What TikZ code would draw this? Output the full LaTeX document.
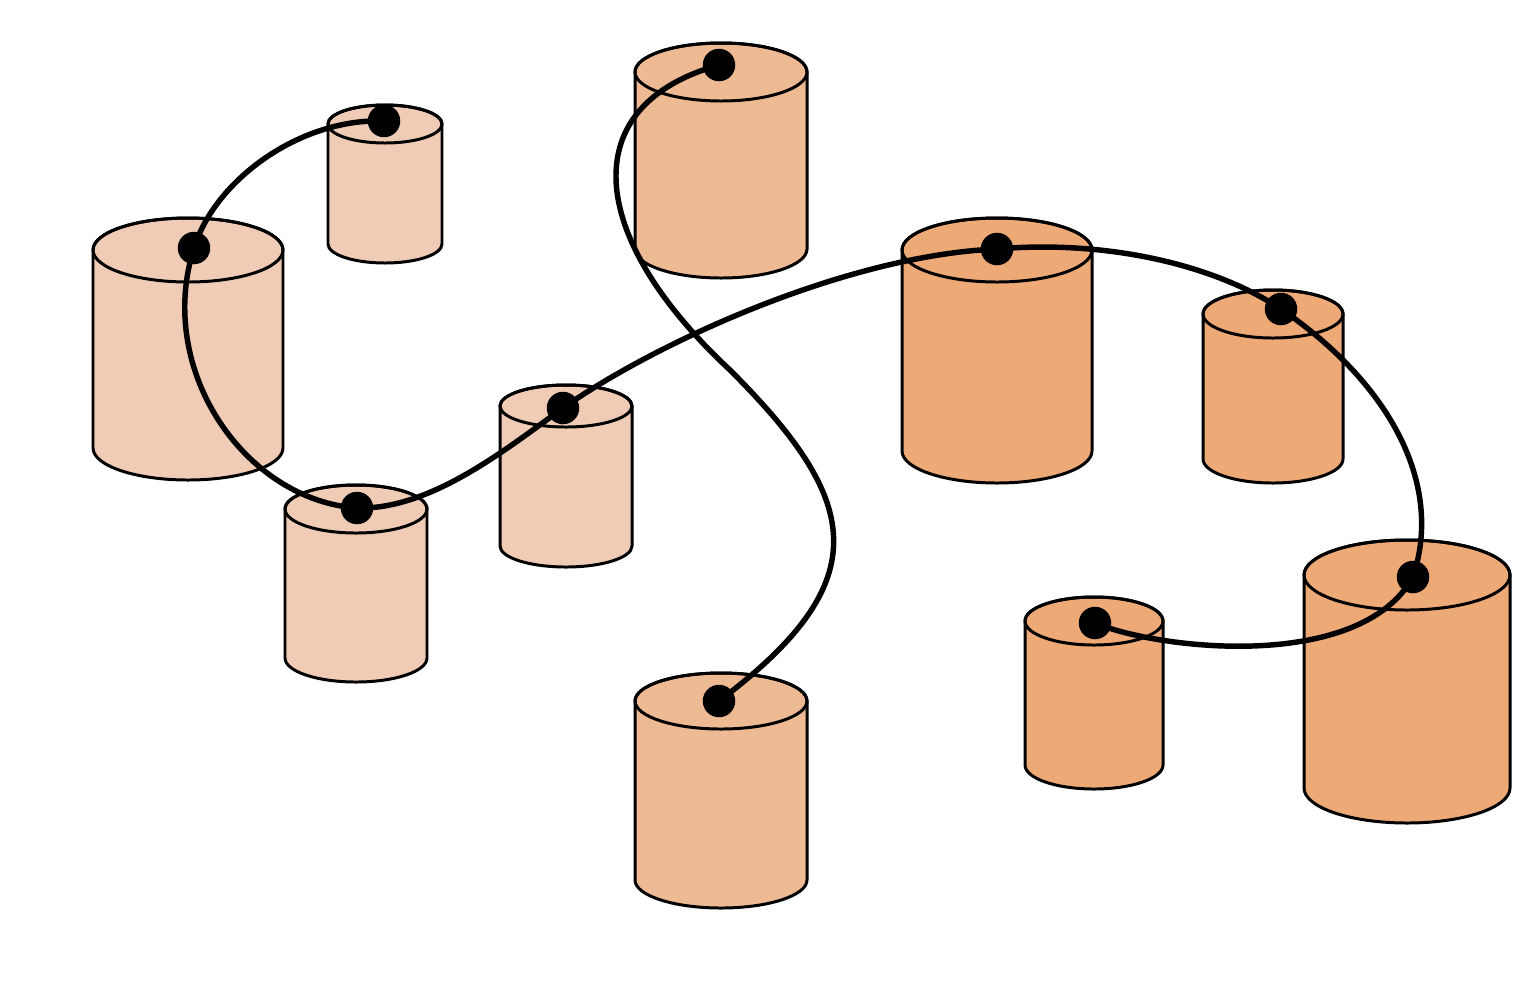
\documentclass[tikz,border=0pt]{standalone}
\usepackage{xcolor}
\usepackage{tikz}
\usetikzlibrary{calc}
\definecolor{peachlight}{RGB}{240,204,183}
\definecolor{peachmid}{RGB}{238,186,147}
\definecolor{peachdark}{RGB}{237,169,118}
\def\px{0.02cm}
% cx, top y, bottom y, x radius, y radius, fill
\newcommand{\drawcan}[6]{%
  \filldraw[can, fill=#6] (#1-#4,#2) -- (#1-#4,#3)
    arc[start angle=180, end angle=360, x radius=#4*\px, y radius=#5*\px]
    -- (#1+#4,#2)
    arc[start angle=0, end angle=180, x radius=#4*\px, y radius=#5*\px] -- cycle;
  \draw[can] (#1,#2) ellipse[x radius=#4*\px, y radius=#5*\px];
}

\begin{document}
\begin{tikzpicture}[
  x=0.02cm, y=-0.02cm,
  can/.style={draw=black,line width=1.7pt},
  dot/.style={circle,fill=black,inner sep=0pt,minimum size=0.65cm},
  wire/.style={line width=3.1pt,line cap=round}
]
\useasboundingbox (0,0) rectangle (1524,992);

\drawcan{188}{250}{448}{95}{32}{peachlight}
\drawcan{385}{124}{244}{57}{19}{peachlight}
\drawcan{356}{509}{658}{71}{24}{peachlight}
\drawcan{566}{406}{546}{66}{21}{peachlight}
\drawcan{721}{72}{249}{86}{29}{peachmid}
\drawcan{721}{701}{880}{86}{28}{peachmid}
\drawcan{997}{250}{451}{95}{32}{peachdark}
\drawcan{1273}{314}{459}{70}{24}{peachdark}
\drawcan{1094}{621}{765}{69}{24}{peachdark}
\drawcan{1407}{575}{788}{103}{35}{peachdark}

\node[dot] (upperleft) at (384,121) {};
\node[dot] (leftbig) at (194,248) {};
\node[dot] (lowleft) at (357,508) {};
\node[dot] (midleft) at (563,408) {};
\node[dot] (topmid) at (719,65) {};
\node[dot] (bottommid) at (719,701) {};
\node[dot] (bigright) at (997,249) {};
\node[dot] (smallright) at (1281,309) {};
\node[dot] (largeright) at (1413,577) {};
\node[dot] (lowright) at (1095,623) {};
\coordinate (bend) at (730,370);

\draw[wire] (upperleft.center) .. controls (300,118) and (215,180) .. (leftbig.center)
  .. controls (155,370) and (245,500) .. (lowleft.center)
  .. controls (430,510) and (505,450) .. (midleft.center)
  .. controls (660,340) and (850,255) .. (bigright.center)
  .. controls (1100,240) and (1210,262) .. (smallright.center)
  .. controls (1385,380) and (1445,480) .. (largeright.center)
  .. controls (1360,672) and (1160,650) .. (lowright.center);
\draw[wire] (topmid.center) .. controls (575,105) and (585,235) .. (bend)
  .. controls (860,500) and (880,580) .. (bottommid.center);
\end{tikzpicture}
\end{document}
